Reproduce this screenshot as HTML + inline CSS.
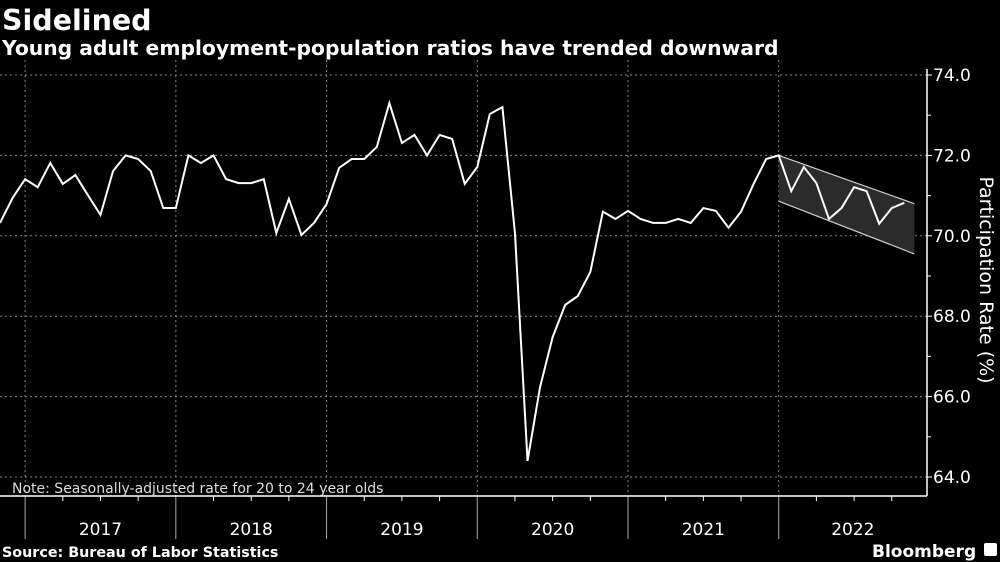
<!DOCTYPE html>
<html><head><meta charset="utf-8"><style>
body{margin:0;background:#000;width:1000px;height:562px;overflow:hidden;font-family:"DejaVu Sans","Liberation Sans",sans-serif;color:#fff}
svg{position:absolute;left:0;top:0}
</style></head><body>
<svg width="1000" height="562">
<text x="2" y="30" font-size="28.5" font-weight="bold" fill="#fff">Sidelined</text>
<text x="2" y="55" font-size="20.3" font-weight="bold" fill="#fff">Young adult employment-population ratios have trended downward</text>
<g id="grid"></g>
<g id="channel"></g>
<g id="series"></g>
<g id="axes"></g>
<text x="12" y="493" font-size="14" fill="#ddd">Note: Seasonally-adjusted rate for 20 to 24 year olds</text>
<text x="2" y="557" font-size="14.3" font-weight="bold" fill="#fff">Source: Bureau of Labor Statistics</text>
<text x="872" y="557" font-size="17" font-weight="bold" fill="#fff">Bloomberg</text>
<rect x="984" y="543" width="13" height="13" rx="2" fill="#fff"/>
<text transform="translate(980,280) rotate(90)" text-anchor="middle" font-size="19" fill="#fff">Participation Rate (%)</text>
</svg>
<script>
const values=[70.32,70.94,71.41,71.21,71.81,71.29,71.51,71.01,70.52,71.61,72.0,71.91,71.61,70.69,70.69,72.0,71.81,72.0,71.41,71.31,71.31,71.41,70.07,70.92,70.02,70.32,70.79,71.69,71.91,71.91,72.21,73.3,72.31,72.51,72.0,72.51,72.41,71.29,71.71,73.03,73.2,70.07,64.4,66.24,67.48,68.28,68.5,69.1,70.6,70.42,70.62,70.42,70.32,70.32,70.42,70.32,70.69,70.62,70.2,70.6,71.29,71.91,72.0,71.11,71.71,71.31,70.42,70.69,71.21,71.11,70.3,70.69,70.82];
const years=["2017","2018","2019","2020","2021","2022"];
const yearStartIdx=[2,14,26,38,50,62];
const yTicks=[64,66,68,70,72,74];
const channelStart=[62,72.0,70.86];
const channelEnd=[72.8,70.8,69.55];
const NS="http://www.w3.org/2000/svg";
const X0=0,DX=12.56,PR=927,PB=496;
const x=i=>X0+i*DX;
const y=v=>75+(74-v)*40.2;
function mk(t,a,p){const e=document.createElementNS(NS,t);for(const k in a)e.setAttribute(k,a[k]);p.appendChild(e);return e;}
const grid=document.getElementById('grid'),axes=document.getElementById('axes');
yTicks.forEach(t=>{
 const l=mk('line',{x1:0,x2:PR,y1:y(t),y2:y(t),stroke:'#888','stroke-dasharray':'2,3','stroke-width':1},grid);
 
 
 const tk=mk('line',{x1:PR,x2:PR+5,y1:y(t),y2:y(t),stroke:'#fff'},axes);
 
 
 const tx=mk('text',{x:PR+6,y:y(t)+6,'font-size':17,fill:'#fff'},axes);
 tx.textContent=t.toFixed(1);
 
 
});
yTicks.slice(0,-1).forEach(t=>{
 const tk=mk('line',{x1:PR,x2:PR+4,y1:y(t+1),y2:y(t+1),stroke:'#fff'},axes);
 
 
});
yearStartIdx.forEach((s,k)=>{
 const gx=x(s);
 const g=mk('line',{x1:gx,x2:gx,y1:60,y2:PB,stroke:'#888','stroke-dasharray':'2,3'},grid);
 
 
 const sep=mk('line',{x1:gx,x2:gx,y1:PB,y2:539,stroke:'#aaa'},axes);
 
 
 for(let q=1;q<4;q++){const qx=x(s+q*3);if(qx<PR){
  const m=mk('line',{x1:qx,x2:qx,y1:PB,y2:PB+5,stroke:'#fff'},axes);
  
  }}
 const t=mk('text',{x:k==5?(gx+PR)/2:x(s+6),y:535,'font-size':17,fill:'#fff','text-anchor':'middle'},axes);
 t.textContent=years[k];
 
 
});
const ax=mk('line',{x1:0,x2:PR,y1:PB,y2:PB,stroke:'#fff','stroke-width':1.5},axes);


const ay=mk('line',{x1:PR,x2:PR,y1:69,y2:PB,stroke:'#fff','stroke-width':1.5},axes);


const ch=document.getElementById('channel');
const cp=mk('polygon',{points:`${x(channelStart[0])},${y(channelStart[1])} ${x(channelEnd[0])},${y(channelEnd[1])} ${x(channelEnd[0])},${y(channelEnd[2])} ${x(channelStart[0])},${y(channelStart[2])}`,fill:'#2b2b2b'},ch);


[1,2].forEach(j=>{
 const l=mk('line',{x1:x(channelStart[0]),y1:y(channelStart[j]),x2:x(channelEnd[0]),y2:y(channelEnd[j]),stroke:'#ccc','stroke-width':1.2},ch);
 
 
});
const p=mk('polyline',{points:values.map((v,i)=>x(i)+','+y(v)).join(' '),fill:'none',stroke:'#fff','stroke-width':2,'stroke-linejoin':'miter'},document.getElementById('series'));


</script>
</body></html>
